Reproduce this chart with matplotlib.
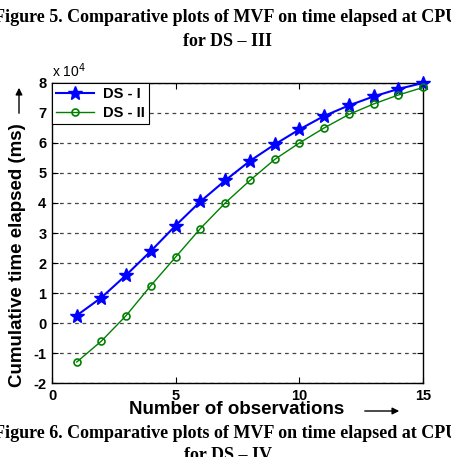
import matplotlib
matplotlib.use("Agg")
import matplotlib.pyplot as plt

plt.rcParams["axes.unicode_minus"] = False

# Values (y in units of 1e4 ms)
observations = list(range(1, 16))
ds1 = [0.25, 0.85, 1.6, 2.4, 3.25, 4.05, 4.75, 5.4, 5.95, 6.45, 6.9, 7.25, 7.55, 7.8, 8.0]
ds2 = [-1.3, -0.6, 0.25, 1.25, 2.2, 3.15, 4.0, 4.75, 5.45, 6.0, 6.5, 6.95, 7.3, 7.6, 7.85]
series_labels = ["DS - I", "DS - II"]
x_ticks = [0, 5, 10, 15]
y_ticks = list(range(-2, 9))

fig = plt.figure(figsize=(4.51, 4.57), dpi=100)
ax = fig.add_axes([0.1153, 0.1619, 0.8226, 0.6565])

ax.plot(observations, ds1, color="#0000ff", lw=1.5, marker="*", ms=10,
        mfc="#0000ff", mec="#0000ff", label=series_labels[0], clip_on=False, zorder=3)
ax.plot(observations, ds2, color="#008000", lw=1.0, marker="o", ms=5,
        mfc="none", mec="#008000", mew=1.2, label=series_labels[1], clip_on=False, zorder=3)

ax.set_xlim(0, 15)
ax.set_ylim(-2, 8)
ax.set_xticks(x_ticks)
ax.set_yticks(y_ticks)
ax.yaxis.grid(True, linestyle=(0, (3, 3)), color="#444444", lw=0.9)
ax.tick_params(direction="in", top=True, right=True, length=4, width=0.8, pad=4)
for lab in ax.get_xticklabels() + ax.get_yticklabels():
    lab.set_fontsize(10.5)
    lab.set_fontweight("bold")
    lab.set_family("Liberation Sans")
for s in ax.spines.values():
    s.set_linewidth(1.0)

ax.text(0.0, 1.01, r"x 10$^4$", transform=ax.transAxes, fontsize=10,
        family="Liberation Sans", ha="left", va="bottom")

leg = ax.legend(loc="upper left", fancybox=False, edgecolor="black",
                borderaxespad=0, framealpha=1, handlelength=2.6,
                prop={"family": "Liberation Sans", "size": 10.5, "weight": "bold"},
                borderpad=0.3, labelspacing=0.3, handletextpad=0.6)
leg.get_frame().set_linewidth(0.8)

# axis labels with arrows
fig.text(237 / 451, 1 - 410 / 457, "Number of observations", ha="center", va="center",
         fontsize=13.5, family="Liberation Sans", weight="bold")
fig.text(18 / 451, 1 - 255 / 457, "Cumulative time elapsed (ms)", ha="center", va="center",
         rotation=90, fontsize=13.5, family="Liberation Sans", weight="bold")
fig.add_artist(matplotlib.patches.FancyArrowPatch(
    (362 / 451, 1 - 411 / 457), (402 / 451, 1 - 411 / 457), transform=fig.transFigure,
    arrowstyle="-|>", mutation_scale=10, color="black", lw=1.0))
fig.add_artist(matplotlib.patches.FancyArrowPatch(
    (19 / 451, 1 - 116 / 457), (19 / 451, 1 - 85 / 457), transform=fig.transFigure,
    arrowstyle="-|>", mutation_scale=10, color="black", lw=1.0))

# captions from the surrounding page (cropped at the edges, as in the source)
cap = dict(family="Liberation Serif", weight="bold", fontsize=13, ha="center", va="center")
fig.text(226 / 451, 1 - 18 / 457, "Figure 5. Comparative plots of MVF on time elapsed at CPU", **cap)
fig.text(228 / 451, 1 - 41 / 457, "for DS \u2013 III", **cap)
fig.text(226 / 451, 1 - 434 / 457, "Figure 6. Comparative plots of MVF on time elapsed at CPU", **cap)
fig.text(228 / 451, 1 - 455 / 457, "for DS \u2013 IV", **cap)

fig.savefig("out.png", dpi=100)
